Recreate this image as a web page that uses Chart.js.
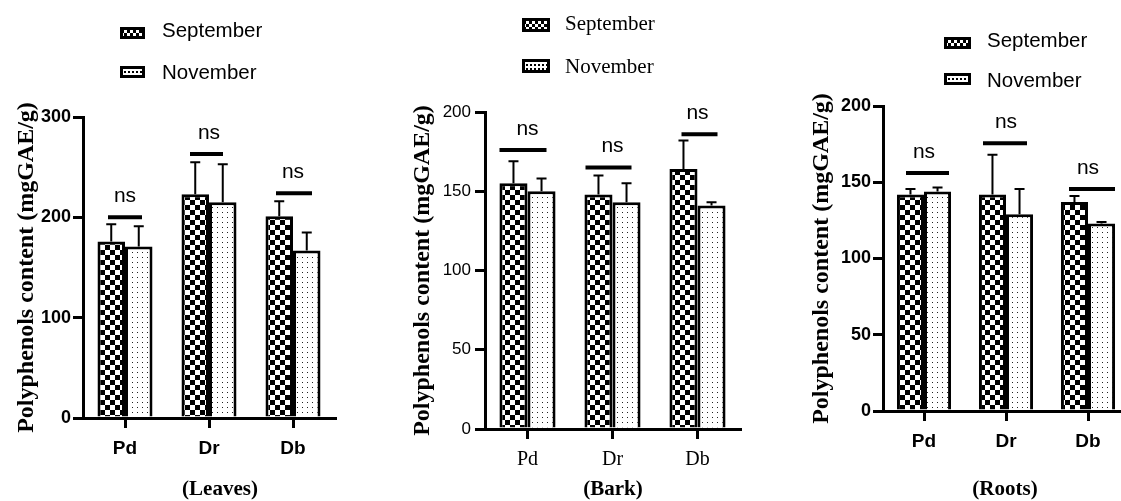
<!DOCTYPE html>
<html>
<head>
<meta charset="utf-8">
<script src="https://cdn.jsdelivr.net/npm/chart.js@4.4.1/dist/chart.umd.min.js"></script>
<style>
html, body { margin:0; padding:0; width:1121px; height:501px; overflow:hidden; background:#fff; }
canvas { position:absolute; }
.icon { position:absolute; box-sizing:border-box; border:3px solid #000; }
.chk { background-color:#000; background-image: repeating-conic-gradient(#000 0 25%, #fff 0 50%); background-size:6px 6px; background-position:1px 0; }
.dot { background-color:#fff; background-image: radial-gradient(circle, #000 0.8px, transparent 1.1px); background-size:4px 4px; background-position:0 1px; }
.lt { position:absolute; white-space:nowrap; line-height:1; color:#000; }
.sans { font-family:'Liberation Sans', Arial, sans-serif; font-size:20.5px; }
.serif { font-family:'Liberation Serif', 'Times New Roman', serif; font-size:21px; }
.cap { position:absolute; white-space:nowrap; line-height:1; font-family:'Liberation Serif','Times New Roman',serif; font-weight:bold; font-size:21px; transform:translateX(-50%); color:#000; }
</style>
</head>
<body>
<canvas id="leaves" width="345" height="501" style="left:0;top:0"></canvas>
<canvas id="bark" width="355" height="501" style="left:395px;top:0"></canvas>
<canvas id="roots" width="344" height="501" style="left:795px;top:0"></canvas>

<!-- Leaves legend -->
<div class="icon chk" style="left:120px;top:27px;width:25px;height:12px"></div>
<div class="lt sans" style="left:162px;top:20px">September</div>
<div class="icon dot" style="left:120px;top:66px;width:25px;height:12px"></div>
<div class="lt sans" style="left:162px;top:62px">November</div>
<!-- Bark legend -->
<div class="icon chk" style="left:522px;top:18px;width:28px;height:14px"></div>
<div class="lt serif" style="left:565px;top:13px">September</div>
<div class="icon dot" style="left:522px;top:59px;width:28px;height:14px"></div>
<div class="lt serif" style="left:565px;top:56px">November</div>
<!-- Roots legend -->
<div class="icon chk" style="left:944px;top:37px;width:27px;height:12px"></div>
<div class="lt sans" style="left:987px;top:30px">September</div>
<div class="icon dot" style="left:944px;top:73px;width:27px;height:12px"></div>
<div class="lt sans" style="left:987px;top:70px">November</div>

<div class="cap" style="left:220px;top:478px">(Leaves)</div>
<div class="cap" style="left:613px;top:478px">(Bark)</div>
<div class="cap" style="left:1005px;top:478px">(Roots)</div>

<script>
// ---------------- data ----------------
const categories = ['Pd', 'Dr', 'Db'];
const seriesNames = ['September', 'November'];
const sigLabels = ['ns', 'ns', 'ns'];
const yTitle = 'Polyphenols content (mgGAE/g)';

const leavesTicks = [0, 100, 200, 300];
const leavesSeptember = [176, 223, 201];
const leavesNovember = [171, 215, 167];
const leavesSeptemberErr = [193, 255, 216];
const leavesNovemberErr = [191, 253, 185];
const leavesSig = [200, 263, 224];

const barkTicks = [0, 50, 100, 150, 200];
const barkSeptember = [155, 148, 164];
const barkNovember = [150, 143, 141];
const barkSeptemberErr = [169, 160, 182];
const barkNovemberErr = [158, 155, 143];
const barkSig = [176, 165, 186];

const rootsTicks = [0, 50, 100, 150, 200];
const rootsSeptember = [142, 142, 137];
const rootsNovember = [144, 129, 123];
const rootsSeptemberErr = [145.5, 168, 141];
const rootsNovemberErr = [146.5, 145.5, 124];
const rootsSig = [156, 175.5, 145.5];

// ---------------- patterns ----------------
function makePattern(kind) {
  const c = document.createElement('canvas');
  const g = c.getContext('2d');
  if (kind === 'checker') {
    c.width = 10; c.height = 10;
    g.fillStyle = '#fff'; g.fillRect(0, 0, 10, 10);
    g.fillStyle = '#000'; g.fillRect(0, 0, 5, 5); g.fillRect(5, 5, 5, 5);
  } else {
    c.width = 5; c.height = 5;
    g.fillStyle = '#fff'; g.fillRect(0, 0, 5, 5);
    g.fillStyle = '#222'; g.fillRect(2, 2, 1, 1);
  }
  return g.createPattern(c, 'repeat');
}
const checker = makePattern('checker');
const dots = makePattern('dots');

// ---------------- annotation plugin (error bars + ns) ----------------
const annot = {
  id: 'annot',
  afterDatasetsDraw(chart, args, o) {
    const ctx = chart.ctx, ys = chart.scales.y, xs = chart.scales.x;
    ctx.save();
    ctx.strokeStyle = '#000';
    ctx.fillStyle = '#000';
    ctx.lineWidth = 2;
    o.errs.forEach((arr, di) => {
      const meta = chart.getDatasetMeta(di);
      arr.forEach((v, i) => {
        const bar = meta.data[i];
        const yt = ys.getPixelForValue(v);
        ctx.beginPath();
        ctx.moveTo(bar.x, bar.y);
        ctx.lineTo(bar.x, yt);
        ctx.moveTo(bar.x - o.cap / 2, yt);
        ctx.lineTo(bar.x + o.cap / 2, yt);
        ctx.stroke();
      });
    });
    ctx.lineWidth = 4;
    ctx.font = o.sigFont;
    ctx.textAlign = 'center';
    ctx.textBaseline = 'alphabetic';
    o.sig.forEach((v, i) => {
      const cx = xs.getPixelForValue(i);
      const yy = ys.getPixelForValue(v);
      const sp = o.span[i];
      ctx.beginPath();
      ctx.moveTo(cx + sp[0], yy);
      ctx.lineTo(cx + sp[1], yy);
      ctx.stroke();
      ctx.fillText(sigLabels[i], cx, yy - 15);
    });
    ctx.restore();
  }
};

const sans = "'Liberation Sans', Arial, sans-serif";
const serif = "'Liberation Serif', 'Times New Roman', serif";

function makeChart(id, c) {
  return new Chart(document.getElementById(id), {
    type: 'bar',
    data: {
      labels: categories,
      datasets: [
        { label: seriesNames[0], data: c.sept, backgroundColor: checker, borderColor: '#000', borderWidth: 3 },
        { label: seriesNames[1], data: c.nov, backgroundColor: dots, borderColor: '#000', borderWidth: 3 }
      ]
    },
    options: {
      responsive: false,
      animation: false,
      devicePixelRatio: 1,
      layout: { padding: { top: c.top, left: 0, right: 10, bottom: 0 } },
      datasets: { bar: { categoryPercentage: c.cp, barPercentage: 1 } },
      plugins: {
        legend: { display: false },
        tooltip: { enabled: false },
        annot: { errs: [c.septErr, c.novErr], sig: c.sig, span: c.span, cap: 10,
                 sigFont: "21px " + sans }
      },
      scales: {
        x: {
          offset: true,
          grid: { display: true, drawOnChartArea: false, drawTicks: true, offset: false,
                  tickLength: 10, tickWidth: 3, tickColor: '#000', color: '#000', lineWidth: 3 },
          border: { display: true, color: '#000', width: 3 },
          ticks: { color: '#000', font: c.xFont, padding: c.xPad },
          afterFit: s => { s.height = c.hx; }
        },
        y: {
          min: c.ticks[0], max: c.ticks[c.ticks.length - 1],
          afterBuildTicks: s => { s.ticks = c.ticks.map(v => ({ value: v })); },
          grid: { display: true, drawOnChartArea: false, drawTicks: true,
                  tickLength: 10, tickWidth: 3, tickColor: '#000', color: '#000', lineWidth: 3 },
          border: { display: true, color: '#000', width: 3 },
          ticks: { color: '#000', font: c.yFont, padding: c.yPad },
          title: { display: true, text: yTitle, color: '#000',
                   font: { family: serif, weight: 'bold', size: 24 },
                   padding: { top: c.titlePad, bottom: 0 } },
          afterFit: s => { s.width = c.wy; }
        }
      }
    },
    plugins: [annot]
  });
}

makeChart('leaves', {
  sept: leavesSeptember, nov: leavesNovember, septErr: leavesSeptemberErr, novErr: leavesNovemberErr,
  sig: leavesSig, ticks: leavesTicks, span: [[-17, 17], [-19, 14], [-17, 19]],
  top: 117, wy: 83, hx: 83, cp: 0.655, titlePad: 12,
  xFont: { family: sans, weight: 'bold', size: 19 }, xPad: 9,
  yFont: { family: sans, weight: 'bold', size: 18 }, yPad: 2
});

makeChart('bark', {
  sept: barkSeptember, nov: barkNovember, septErr: barkSeptemberErr, novErr: barkNovemberErr,
  sig: barkSig, ticks: barkTicks, span: [[-28, 19], [-27, 19], [-16, 20]],
  top: 112, wy: 90, hx: 72, cp: 0.66, titlePad: 13,
  xFont: { family: serif, weight: 'normal', size: 20 }, xPad: 9,
  yFont: { family: sans, weight: 'normal', size: 17 }, yPad: 4
});

makeChart('roots', {
  sept: rootsSeptember, nov: rootsNovember, septErr: rootsSeptemberErr, novErr: rootsNovemberErr,
  sig: rootsSig, ticks: rootsTicks, span: [[-18, 25], [-23, 21], [-19, 27]],
  top: 106, wy: 88, hx: 90, cp: 0.66, titlePad: 12,
  xFont: { family: sans, weight: 'bold', size: 19 }, xPad: 9,
  yFont: { family: sans, weight: 'bold', size: 18 }, yPad: 2
});
</script>
</body>
</html>
